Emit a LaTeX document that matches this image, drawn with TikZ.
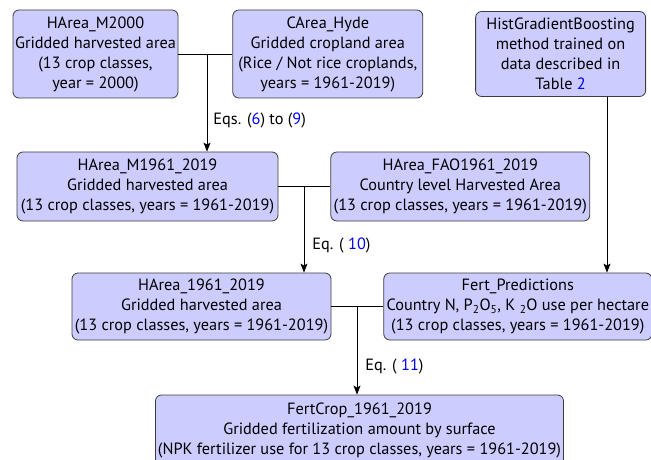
\documentclass[tikz,border=0pt]{standalone}
\usepackage{fontspec}
\setmainfont{PT Sans}
\usetikzlibrary{arrows.meta, positioning}
\definecolor{boxfill}{RGB}{204,204,255}
\definecolor{boxline}{RGB}{60,60,60}
\newcommand{\xref}[1]{\textcolor{blue}{#1}}

\begin{document}
\begin{tikzpicture}[x=1pt, y=1pt,
    data/.style={rectangle, draw=boxline, fill=boxfill, rounded corners=6pt,
                 line width=0.8pt, align=center, inner sep=0pt,
                 font=\fontsize{16.3}{20}\selectfont},
    relation/.style={-{Stealth[length=9pt, width=7pt, inset=2pt]}, line width=0.9pt},
    link/.style={line width=0.9pt},
    eq/.style={anchor=west, inner sep=0pt, font=\fontsize{16.3}{18}\selectfont}
]
\useasboundingbox (0,0) rectangle (651,-460);
\clip (0,0) rectangle (651,-460);

% Inputs
\node[data, minimum width=165pt, minimum height=88pt] (hareaM2000) at (95.5,-54)
    {HArea\_M2000\\Gridded harvested area\\(13 crop classes,\\year = 2000)};
\node[data, minimum width=190pt, minimum height=88pt, right=54pt of hareaM2000] (careaHyde)
    {CArea\_Hyde\\Gridded cropland area\\(Rice / Not rice croplands,\\years = 1961-2019)};
\node[data, minimum width=170pt, minimum height=85pt, right=52pt of careaHyde] (histGB)
    {HistGradientBoosting\\method trained on\\data described in\\Table \xref{2}};

% Intermediate results
\node[data, minimum width=261pt, minimum height=69pt] (hareaM1961) at (147.5,-186.5)
    {HArea\_M1961\_2019\\Gridded harvested area\\(13 crop classes, years = 1961-2019)};
\node[data, minimum width=259pt, minimum height=69pt, right=52pt of hareaM1961] (hareaFAO)
    {HArea\_FAO1961\_2019\\Country level Harvested Area\\(13 crop classes, years = 1961-2019)};

\node[data, minimum width=259pt, minimum height=67pt] (harea1961) at (201.5,-306.5)
    {HArea\_1961\_2019\\Gridded harvested area\\(13 crop classes, years = 1961-2019)};
\node[data, minimum width=268pt, minimum height=67pt, right=52pt of harea1961] (fertPred)
    {Fert\_Predictions\\Country N, P\textsubscript{2}O\textsubscript{5}, K \textsubscript{2}O use per hectare\\(13 crop classes, years = 1961-2019)};

% Output
\node[data, minimum width=408pt, minimum height=70pt] (fertCrop) at (359.5,-430)
    {FertCrop\_1961\_2019\\Gridded fertilization amount by surface\\(NPK fertilizer use for 13 crop classes, years = 1961-2019)};

% Relations
\coordinate (join1) at (207,-54);
\coordinate (join2) at (304,-186.5);
\coordinate (join3) at (357,-306.5);
\coordinate (histDrop) at (607,0);

\draw[link] (hareaM2000) -- (careaHyde);
\draw[relation] (join1) -- (join1 |- hareaM1961.north)
    node[eq, pos=0.68, xshift=6pt] {Eqs. (\xref{6}) to (\xref{9})};

\draw[link] (hareaM1961) -- (hareaFAO);
\draw[relation] (join2) -- (join2 |- harea1961.north)
    node[eq, pos=0.68, xshift=8pt] {Eq. ( \xref{10})};

\draw[link] (harea1961) -- (fertPred);
\draw[relation] (histDrop |- histGB.south) -- (histDrop |- fertPred.north);
\draw[relation] (join3) -- (join3 |- fertCrop.north)
    node[eq, pos=0.68, xshift=8pt] {Eq. ( \xref{11})};

\end{tikzpicture}
\end{document}
